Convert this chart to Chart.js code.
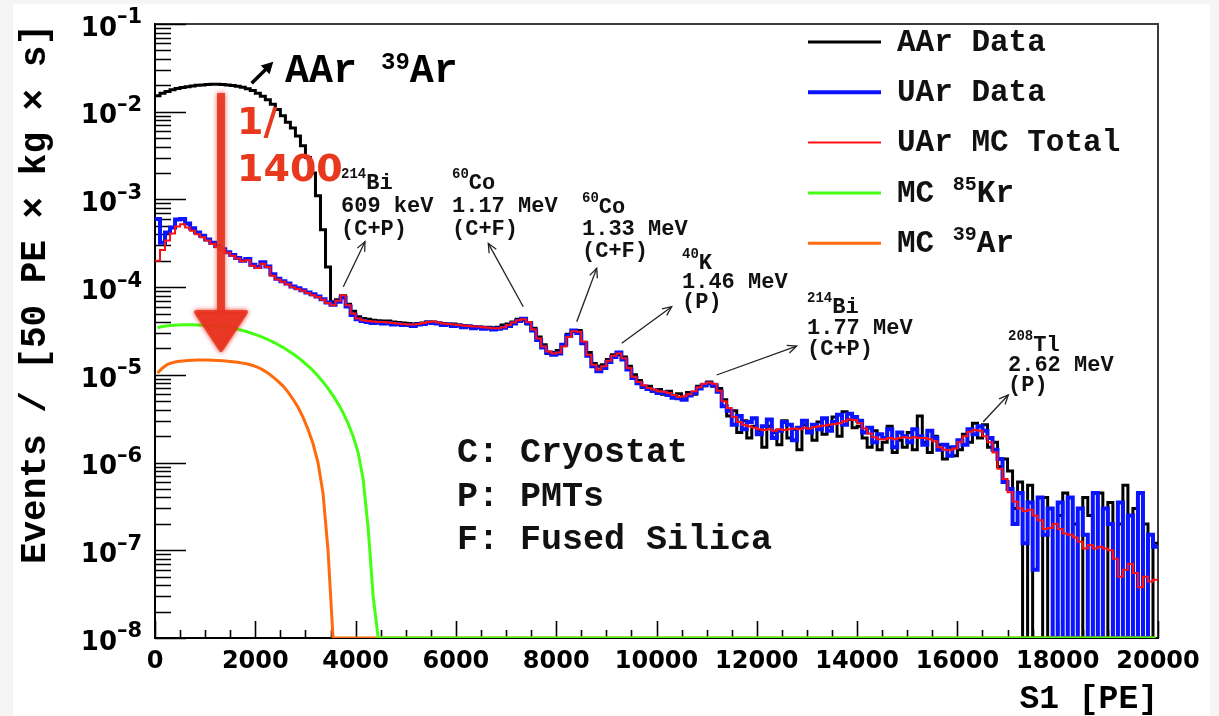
<!DOCTYPE html>
<html>
<head>
<meta charset="utf-8">
<script src="https://cdn.jsdelivr.net/npm/chart.js@4.4.1/dist/chart.umd.min.js"></script>
<style>
  html, body { margin: 0; padding: 0; background: #ffffff; }
  #wrap { position: relative; width: 1219px; height: 716px; }
</style>
</head>
<body>
<div id="wrap"><canvas id="spectrum" width="1219" height="716"></canvas></div>
<script>
// S1 spectra in 100 PE bins, rate in events / [50 PE x kg x s]
const S1_MIN = 0, S1_MAX = 20000, BIN_WIDTH = 100;
const Y_MIN = 1e-8, Y_MAX = 1e-1;
const xTickValues = [0, 2000, 4000, 6000, 8000, 10000, 12000, 14000, 16000, 18000, 20000];
const yTickExponents = [-8, -7, -6, -5, -4, -3, -2, -1];

// Atmospheric argon data (0 = empty bin)
const aarData = [
  1.52e-2, 1.62e-2, 1.70e-2, 1.78e-2, 1.84e-2, 1.89e-2, 1.93e-2, 1.97e-2, 2.00e-2, 2.02e-2,
  2.04e-2, 2.05e-2, 2.05e-2, 2.04e-2, 2.02e-2, 1.99e-2, 1.95e-2, 1.90e-2, 1.83e-2, 1.74e-2,
  1.62e-2, 1.50e-2, 1.37e-2, 1.22e-2, 1.06e-2, 9.0e-3, 7.6e-3, 6.5e-3, 5.3e-3, 4.1e-3,
  3.0e-3, 2.0e-3, 1.1e-3, 4.5e-4, 1.7e-4, 6.8e-5, 7.2e-5, 8.0e-5, 6.4e-5, 5.3e-5,
  4.6e-5, 4.4e-5, 4.3e-5, 4.2e-5, 4.15e-5, 4.1e-5, 4.1e-5, 4.0e-5, 3.95e-5, 3.9e-5,
  3.85e-5, 3.8e-5, 3.85e-5, 3.9e-5, 4.0e-5, 4.0e-5, 3.9e-5, 3.85e-5, 3.8e-5, 3.8e-5,
  3.7e-5, 3.65e-5, 3.6e-5, 3.55e-5, 3.5e-5, 3.5e-5, 3.5e-5, 3.45e-5, 3.5e-5, 3.7e-5,
  3.8e-5, 4.0e-5, 4.3e-5, 4.2e-5, 3.8e-5, 3.4e-5, 2.7e-5, 2.2e-5, 1.75e-5, 1.8e-5,
  1.9e-5, 2.2e-5, 2.9e-5, 3.1e-5, 3.2e-5, 2.3e-5, 1.8e-5, 1.35e-5, 1.25e-5, 1.3e-5,
  1.5e-5, 1.7e-5, 1.7e-5, 1.6e-5, 1.25e-5, 1.0e-5, 8.6e-6, 7.2e-6, 7.4e-6, 6.5e-6,
  6.8e-6, 6.0e-6, 6.5e-6, 5.6e-6, 6.1e-6, 5.3e-6, 6.3e-6, 6.0e-6, 7.4e-6, 7.5e-6,
  8.3e-6, 7.4e-6, 7.0e-6, 5.2e-6, 3.4e-6, 3.9e-6, 2.2e-6, 3.0e-6, 1.9e-6, 2.6e-6,
  2.3e-6, 1.5e-6, 2.6e-6, 2.2e-6, 1.6e-6, 3.0e-6, 1.9e-6, 2.4e-6, 1.4e-6, 2.7e-6,
  2.4e-6, 1.8e-6, 2.9e-6, 2.1e-6, 2.6e-6, 3.3e-6, 2.0e-6, 3.8e-6, 3.1e-6, 2.5e-6,
  2.6e-6, 1.9e-6, 1.5e-6, 2.3e-6, 1.4e-6, 1.7e-6, 2.6e-6, 1.3e-6, 1.8e-6, 1.5e-6,
  2.2e-6, 1.4e-6, 3.4e-6, 1.7e-6, 1.3e-6, 2.0e-6, 1.6e-6, 1.1e-6, 1.5e-6, 1.2e-6,
  1.4e-6, 2.1e-6, 1.7e-6, 2.8e-6, 1.9e-6, 2.7e-6, 1.5e-6, 1.7e-6, 9.0e-7, 1.1e-6,
  8.0e-7, 3.0e-7, 6.0e-7, 0, 5.5e-7, 0, 0, 4.0e-7, 0, 0,
  2.5e-7, 4.5e-7, 0, 2.0e-7, 0, 4.0e-7, 2.5e-7, 0, 4.5e-7, 0,
  3.5e-7, 0, 2.0e-7, 5.5e-7, 0, 3.0e-7, 0, 2.0e-7, 0, 1.2e-7
];

// Underground argon data
const uarData = [
  6.0e-4, 3.2e-4, 4.2e-4, 4.8e-4, 5.9e-4, 6.0e-4, 5.3e-4, 4.7e-4, 4.2e-4, 3.85e-4,
  3.5e-4, 3.2e-4, 2.95e-4, 2.7e-4, 2.5e-4, 2.32e-4, 2.15e-4, 2.0e-4, 2.1e-4, 1.8e-4,
  1.7e-4, 1.92e-4, 1.72e-4, 1.4e-4, 1.25e-4, 1.17e-4, 1.1e-4, 1.02e-4, 9.7e-5, 9.2e-5,
  8.7e-5, 8.3e-5, 7.8e-5, 7.3e-5, 6.7e-5, 6.3e-5, 6.8e-5, 7.6e-5, 6.0e-5, 4.8e-5,
  4.3e-5, 4.1e-5, 4.0e-5, 3.9e-5, 3.95e-5, 3.85e-5, 3.9e-5, 3.75e-5, 3.8e-5, 3.7e-5,
  3.7e-5, 3.6e-5, 3.75e-5, 3.8e-5, 3.95e-5, 3.9e-5, 3.85e-5, 3.7e-5, 3.75e-5, 3.6e-5,
  3.65e-5, 3.5e-5, 3.55e-5, 3.4e-5, 3.5e-5, 3.35e-5, 3.4e-5, 3.3e-5, 3.35e-5, 3.45e-5,
  3.6e-5, 3.85e-5, 4.1e-5, 4.35e-5, 3.9e-5, 3.2e-5, 2.5e-5, 2.05e-5, 1.8e-5, 1.7e-5,
  1.75e-5, 2.2e-5, 2.8e-5, 3.2e-5, 3.0e-5, 2.3e-5, 1.65e-5, 1.25e-5, 1.1e-5, 1.2e-5,
  1.4e-5, 1.6e-5, 1.8e-5, 1.5e-5, 1.15e-5, 9.2e-6, 8.0e-6, 7.3e-6, 6.9e-6, 6.6e-6,
  6.2e-6, 6.3e-6, 5.9e-6, 5.5e-6, 5.4e-6, 5.2e-6, 5.8e-6, 6.2e-6, 7.0e-6, 7.6e-6,
  8.0e-6, 7.6e-6, 6.4e-6, 4.4e-6, 3.9e-6, 2.7e-6, 3.4e-6, 2.4e-6, 2.9e-6, 3.2e-6,
  2.1e-6, 2.6e-6, 3.1e-6, 1.9e-6, 2.3e-6, 2.9e-6, 2.7e-6, 1.8e-6, 2.5e-6, 3.0e-6,
  2.2e-6, 2.7e-6, 2.4e-6, 3.2e-6, 2.3e-6, 2.9e-6, 3.5e-6, 2.7e-6, 3.6e-6, 3.3e-6,
  3.0e-6, 2.2e-6, 2.5e-6, 1.7e-6, 2.1e-6, 1.9e-6, 2.4e-6, 1.5e-6, 2.2e-6, 2.0e-6,
  1.7e-6, 2.4e-6, 2.0e-6, 1.6e-6, 2.3e-6, 1.9e-6, 1.4e-6, 1.6e-6, 1.2e-6, 1.5e-6,
  1.8e-6, 1.6e-6, 2.4e-6, 2.1e-6, 2.6e-6, 2.3e-6, 1.9e-6, 1.4e-6, 1.1e-6, 6.0e-7,
  5.0e-7, 2.0e-7, 4.5e-7, 1.2e-7, 3.5e-7, 6.0e-8, 4.0e-7, 1.5e-7, 3.0e-7, 0,
  3.5e-7, 0, 4.0e-7, 0, 3.0e-7, 1.5e-7, 0, 4.5e-7, 0, 3.0e-7,
  2.0e-7, 0, 3.5e-7, 0, 2.5e-7, 0, 4.5e-7, 0, 1.5e-7, 1.1e-7
];

// Underground argon Monte Carlo, all components
const uarMcTotal = [
  2.0e-4, 2.65e-4, 3.4e-4, 4.1e-4, 4.9e-4, 5.2e-4, 4.8e-4, 4.4e-4, 4.0e-4, 3.7e-4,
  3.4e-4, 3.1e-4, 2.85e-4, 2.65e-4, 2.46e-4, 2.28e-4, 2.12e-4, 1.97e-4, 2.02e-4, 1.75e-4,
  1.65e-4, 1.85e-4, 1.7e-4, 1.35e-4, 1.22e-4, 1.15e-4, 1.08e-4, 1.0e-4, 9.5e-5, 9.1e-5,
  8.6e-5, 8.1e-5, 7.7e-5, 7.2e-5, 6.6e-5, 6.2e-5, 7.0e-5, 8.1e-5, 6.2e-5, 5.0e-5,
  4.4e-5, 4.2e-5, 4.1e-5, 4.05e-5, 4.0e-5, 4.0e-5, 3.95e-5, 3.9e-5, 3.85e-5, 3.8e-5,
  3.75e-5, 3.75e-5, 3.8e-5, 3.9e-5, 4.0e-5, 4.05e-5, 3.95e-5, 3.85e-5, 3.8e-5, 3.75e-5,
  3.7e-5, 3.65e-5, 3.6e-5, 3.55e-5, 3.55e-5, 3.5e-5, 3.45e-5, 3.4e-5, 3.4e-5, 3.5e-5,
  3.7e-5, 3.95e-5, 4.2e-5, 4.3e-5, 4.0e-5, 3.3e-5, 2.6e-5, 2.1e-5, 1.85e-5, 1.75e-5,
  1.8e-5, 2.1e-5, 2.7e-5, 3.15e-5, 3.1e-5, 2.4e-5, 1.7e-5, 1.3e-5, 1.15e-5, 1.25e-5,
  1.45e-5, 1.65e-5, 1.75e-5, 1.55e-5, 1.2e-5, 9.5e-6, 8.3e-6, 7.6e-6, 7.1e-6, 6.8e-6,
  6.5e-6, 6.4e-6, 6.2e-6, 5.9e-6, 5.6e-6, 5.7e-6, 6.0e-6, 6.5e-6, 7.2e-6, 7.9e-6,
  8.2e-6, 7.9e-6, 6.6e-6, 5.0e-6, 4.2e-6, 3.3e-6, 2.9e-6, 2.7e-6, 2.6e-6, 2.5e-6,
  2.4e-6, 2.35e-6, 2.4e-6, 2.3e-6, 2.4e-6, 2.35e-6, 2.4e-6, 2.45e-6, 2.4e-6, 2.5e-6,
  2.45e-6, 2.55e-6, 2.6e-6, 2.65e-6, 2.7e-6, 2.75e-6, 2.8e-6, 2.95e-6, 3.1e-6, 3.05e-6,
  2.8e-6, 2.45e-6, 2.15e-6, 1.95e-6, 1.85e-6, 1.85e-6, 1.9e-6, 1.85e-6, 1.9e-6, 1.95e-6,
  1.9e-6, 1.95e-6, 1.9e-6, 1.9e-6, 1.85e-6, 1.75e-6, 1.5e-6, 1.4e-6, 1.38e-6, 1.45e-6,
  1.7e-6, 2.0e-6, 2.25e-6, 2.35e-6, 2.3e-6, 2.0e-6, 1.7e-6, 1.3e-6, 8.5e-7, 6.5e-7,
  4.6e-7, 3.6e-7, 3.0e-7, 2.8e-7, 2.9e-7, 2.5e-7, 2.2e-7, 1.75e-7, 1.8e-7, 2.0e-7,
  1.75e-7, 1.55e-7, 1.5e-7, 1.4e-7, 1.25e-7, 1.05e-7, 1.15e-7, 1.05e-7, 1.1e-7, 1.05e-7,
  1.0e-7, 8.0e-8, 5.0e-8, 6.0e-8, 7.0e-8, 5.5e-8, 3.8e-8, 5.0e-8, 4.4e-8, 4.6e-8
];

// Monte Carlo 85Kr component
const mcKr85 = [
  3.45e-5, 3.55e-5, 3.62e-5, 3.67e-5, 3.7e-5, 3.72e-5, 3.72e-5, 3.72e-5, 3.7e-5, 3.68e-5,
  3.66e-5, 3.63e-5, 3.6e-5, 3.55e-5, 3.48e-5, 3.4e-5, 3.3e-5, 3.2e-5, 3.08e-5, 2.95e-5,
  2.82e-5, 2.68e-5, 2.53e-5, 2.38e-5, 2.22e-5, 2.06e-5, 1.9e-5, 1.74e-5, 1.58e-5, 1.42e-5,
  1.27e-5, 1.12e-5, 9.7e-6, 8.3e-6, 7.0e-6, 5.8e-6, 4.7e-6, 3.7e-6, 2.8e-6, 2.0e-6,
  1.3e-6, 6.5e-7, 1.8e-7, 3.0e-8, 0, 0, 0, 0, 0, 0,
  0, 0, 0, 0, 0, 0, 0, 0, 0, 0, 0, 0, 0, 0, 0, 0, 0, 0, 0, 0,
  0, 0, 0, 0, 0, 0, 0, 0, 0, 0, 0, 0, 0, 0, 0, 0, 0, 0, 0, 0,
  0, 0, 0, 0, 0, 0, 0, 0, 0, 0, 0, 0, 0, 0, 0, 0, 0, 0, 0, 0,
  0, 0, 0, 0, 0, 0, 0, 0, 0, 0, 0, 0, 0, 0, 0, 0, 0, 0, 0, 0,
  0, 0, 0, 0, 0, 0, 0, 0, 0, 0, 0, 0, 0, 0, 0, 0, 0, 0, 0, 0,
  0, 0, 0, 0, 0, 0, 0, 0, 0, 0, 0, 0, 0, 0, 0, 0, 0, 0, 0, 0,
  0, 0, 0, 0, 0, 0, 0, 0, 0, 0, 0, 0, 0, 0, 0, 0, 0, 0, 0, 0,
  0, 0, 0, 0, 0, 0, 0, 0, 0, 0
];

// Monte Carlo 39Ar component (scaled underground level)
const mcAr39 = [
  1.05e-5, 1.2e-5, 1.32e-5, 1.38e-5, 1.42e-5, 1.44e-5, 1.46e-5, 1.47e-5, 1.48e-5, 1.48e-5,
  1.48e-5, 1.47e-5, 1.46e-5, 1.45e-5, 1.43e-5, 1.41e-5, 1.39e-5, 1.36e-5, 1.33e-5, 1.28e-5,
  1.22e-5, 1.14e-5, 1.05e-5, 9.5e-6, 8.5e-6, 7.5e-6, 6.4e-6, 5.3e-6, 4.3e-6, 3.3e-6,
  2.4e-6, 1.65e-6, 1.0e-6, 4.5e-7, 1.0e-7, 0, 0, 0, 0, 0,
  0, 0, 0, 0, 0, 0, 0, 0, 0, 0, 0, 0, 0, 0, 0, 0, 0, 0, 0, 0,
  0, 0, 0, 0, 0, 0, 0, 0, 0, 0, 0, 0, 0, 0, 0, 0, 0, 0, 0, 0,
  0, 0, 0, 0, 0, 0, 0, 0, 0, 0, 0, 0, 0, 0, 0, 0, 0, 0, 0, 0,
  0, 0, 0, 0, 0, 0, 0, 0, 0, 0, 0, 0, 0, 0, 0, 0, 0, 0, 0, 0,
  0, 0, 0, 0, 0, 0, 0, 0, 0, 0, 0, 0, 0, 0, 0, 0, 0, 0, 0, 0,
  0, 0, 0, 0, 0, 0, 0, 0, 0, 0, 0, 0, 0, 0, 0, 0, 0, 0, 0, 0,
  0, 0, 0, 0, 0, 0, 0, 0, 0, 0, 0, 0, 0, 0, 0, 0, 0, 0, 0, 0,
  0, 0, 0, 0, 0, 0, 0, 0, 0, 0, 0, 0, 0, 0, 0, 0, 0, 0, 0, 0
];

const MONO = '"Liberation Mono", "DejaVu Sans Mono", monospace';
const SANS = '"DejaVu Sans", "Liberation Sans", sans-serif';

// Step histogram: empty bins sit on the axis floor; the last bin is closed at its upper edge.
function histogram(values) {
  const pts = values.map((v, i) => ({ x: S1_MIN + i * BIN_WIDTH, y: v > 0 ? v : Y_MIN }));
  pts.push({ x: S1_MIN + values.length * BIN_WIDTH, y: pts[pts.length - 1].y });
  return pts;
}
// Smooth MC shapes: one point per bin centre, joined by straight segments.
function binCentres(values) {
  return values.map((v, i) => ({ x: S1_MIN + (i + 0.5) * BIN_WIDTH, y: v > 0 ? v : Y_MIN }));
}

// Legend texts: [text, superscript, text]
const legendLabels = [
  ['AAr Data'], ['UAr Data'], ['UAr MC Total'], ['MC ', '85', 'Kr'], ['MC ', '39', 'Ar']
];

// Peak annotations, anchored in (S1 [PE], rate) coordinates
const peakNotes = [
  { iso: '214', el: 'Bi', energy: '609 keV',  origin: '(C+P)', at: [3709, 1.54e-3],  gap: 23,   from: [3755, 1.01e-4],  to: [4187, 3.3e-4] },
  { iso: '60',  el: 'Co', energy: '1.17 MeV', origin: '(C+F)', at: [5922, 1.54e-3],  gap: 23,   from: [7343, 5.98e-5],  to: [6646, 3.16e-4] },
  { iso: '60',  el: 'Co', energy: '1.33 MeV', origin: '(C+F)', at: [8514, 8.2e-4],   gap: 22,   from: [8409, 4.04e-5],  to: [8808, 1.64e-4] },
  { iso: '40',  el: 'K',  energy: '1.46 MeV', origin: '(P)',   at: [10508, 1.88e-4], gap: 19.5, from: [9306, 2.29e-5],  to: [10303, 5.98e-5] },
  { iso: '214', el: 'Bi', energy: '1.77 MeV', origin: '(C+P)', at: [13001, 5.93e-5], gap: 21,   from: [11200, 9.96e-6], to: [12795, 2.13e-5] },
  { iso: '208', el: 'Tl', energy: '2.62 MeV', origin: '(P)',   at: [17009, 2.19e-5], gap: 20,   from: [16516, 2.92e-6], to: [17015, 5.89e-6] }
];

const sourceKey = ['C: Cryostat', 'P: PMTs', 'F: Fused Silica'];
const sourceKeyAt = { x: 6022, y: [1.29e-6, 4.05e-7, 1.31e-7] };

const aarNote = { from: [1928, 2.11e-2], to: [2359, 3.71e-2], text: [2592, 2.86e-2] };
const reduction = { lines: ['1/', '1400'], x: 1635, y: [7.2e-3, 2.08e-3],
                    arrowX: 1316, arrowTop: 1.63e-2, headBase: 5.2e-5, tip: 1.82e-5 };

function arrow(ctx, x1, y1, x2, y2, len, spread, filled) {
  const a = Math.atan2(y2 - y1, x2 - x1);
  ctx.beginPath();
  ctx.moveTo(x1, y1);
  ctx.lineTo(filled ? x2 - Math.cos(a) * len * 0.7 : x2, filled ? y2 - Math.sin(a) * len * 0.7 : y2);
  ctx.stroke();
  ctx.beginPath();
  ctx.moveTo(x2 - len * Math.cos(a - spread), y2 - len * Math.sin(a - spread));
  ctx.lineTo(x2, y2);
  ctx.lineTo(x2 - len * Math.cos(a + spread), y2 - len * Math.sin(a + spread));
  if (filled) { ctx.closePath(); ctx.fill(); } else { ctx.stroke(); }
}

function richText(ctx, x, y, parts) {
  let cx = x;
  for (const [t, size, raise, family] of parts) {
    ctx.font = 'bold ' + size + 'px ' + (family || MONO);
    ctx.fillText(t, cx, y - (raise || 0));
    cx += ctx.measureText(t).width;
  }
}

const decorations = {
  id: 'decorations',
  beforeDraw(chart) {
    const ctx = chart.ctx;
    ctx.save();
    ctx.fillStyle = '#f5f5f5';
    ctx.fillRect(0, 0, 13, chart.height);
    ctx.fillRect(0, 0, chart.width, 4);
    ctx.fillRect(1210, 0, chart.width - 1210, chart.height);
    ctx.restore();
  },
  beforeDatasetsDraw(chart) {
    const { ctx, chartArea: a, scales: { x, y } } = chart;
    ctx.save();
    // upper and right frame
    ctx.strokeStyle = '#3a3a3a';
    ctx.lineWidth = 2;
    ctx.beginPath();
    ctx.moveTo(a.left, a.top); ctx.lineTo(a.right, a.top); ctx.lineTo(a.right, a.bottom);
    ctx.stroke();
    // inward tick marks
    ctx.strokeStyle = '#000';
    ctx.lineWidth = 1.6;
    ctx.beginPath();
    for (let v = S1_MIN; v <= S1_MAX; v += 500) {
      const px = Math.round(x.getPixelForValue(v)) + 0.5;
      const len = v % 2000 === 0 ? 17 : 8;
      ctx.moveTo(px, a.bottom); ctx.lineTo(px, a.bottom - len);
    }
    for (const e of yTickExponents) {
      for (let m = 1; m <= 9; m++) {
        if (e === -1 && m > 1) break;
        const py = Math.round(y.getPixelForValue(m * Number('1e' + e))) + 0.5;
        ctx.moveTo(a.left, py); ctx.lineTo(a.left + (m === 1 ? 31 : 16), py);
      }
    }
    ctx.stroke();
    // decade labels 10^n
    ctx.fillStyle = '#000';
    ctx.textBaseline = 'middle';
    for (const e of yTickExponents) {
      const py = y.getPixelForValue(Number('1e' + e));
      ctx.font = 'bold 26px ' + SANS;
      ctx.textAlign = 'right';
      ctx.fillText('10', 117, py + 5);
      ctx.font = 'bold 21px ' + SANS;
      ctx.textAlign = 'left';
      ctx.fillText('\u2013' + Math.abs(e), 117, py - 6);
    }
    ctx.restore();
  },
  afterDatasetsDraw(chart) {
    const { ctx, chartArea: a, scales: { x, y } } = chart;
    const X = v => x.getPixelForValue(v), Y = v => y.getPixelForValue(v);
    ctx.save();
    ctx.textBaseline = 'middle';
    ctx.textAlign = 'left';

    // legend
    chart.data.datasets.forEach((ds, i) => {
      const ry = a.top + 18 + i * 50.3;
      ctx.strokeStyle = ds.borderColor;
      ctx.lineWidth = ds.borderWidth;
      ctx.beginPath(); ctx.moveTo(a.left + 653, ry); ctx.lineTo(a.left + 726, ry); ctx.stroke();
      ctx.fillStyle = '#111';
      const lab = legendLabels[i];
      if (lab.length === 1) richText(ctx, a.left + 742, ry + 1, [[lab[0], 31]]);
      else richText(ctx, a.left + 742, ry + 1, [[lab[0], 31], [lab[1], 20, 9], [lab[2], 31]]);
    });

    // AAr 39Ar label with arrow
    ctx.strokeStyle = ctx.fillStyle = '#000';
    ctx.lineWidth = 3.5;
    arrow(ctx, X(aarNote.from[0]), Y(aarNote.from[1]), X(aarNote.to[0]), Y(aarNote.to[1]), 13, 0.5, true);
    richText(ctx, X(aarNote.text[0]), Y(aarNote.text[1]), [['AAr ', 40], ['39', 24, 9], ['Ar', 40]]);

    // peak labels
    ctx.lineWidth = 1.3;
    ctx.strokeStyle = '#222';
    ctx.fillStyle = '#111';
    for (const n of peakNotes) {
      arrow(ctx, X(n.from[0]), Y(n.from[1]), X(n.to[0]), Y(n.to[1]), 10, 0.42, false);
      const tx = X(n.at[0]), ty = Y(n.at[1]);
      richText(ctx, tx, ty, [[n.iso, 14, 9], [n.el, 22]]);
      richText(ctx, tx, ty + n.gap, [[n.energy, 22]]);
      richText(ctx, tx, ty + 2 * n.gap, [[n.origin, 22]]);
    }

    // origin key
    sourceKey.forEach((t, i) => richText(ctx, X(sourceKeyAt.x), Y(sourceKeyAt.y[i]), [[t, 35]]));

    // reduction factor arrow
    const ax = X(reduction.arrowX), yTop = Y(reduction.arrowTop), yBase = Y(reduction.headBase), yTip = Y(reduction.tip);
    ctx.save();
    ctx.globalAlpha = 0.85;
    ctx.strokeStyle = ctx.fillStyle = '#e8321e';
    ctx.shadowColor = 'rgba(232,50,30,0.9)';
    ctx.shadowBlur = 5;
    ctx.lineWidth = 8;
    ctx.beginPath(); ctx.moveTo(ax, yTop); ctx.lineTo(ax, yBase + 2); ctx.stroke();
    ctx.lineJoin = 'round';
    ctx.lineWidth = 4;
    ctx.beginPath(); ctx.moveTo(ax - 25, yBase); ctx.lineTo(ax + 25, yBase); ctx.lineTo(ax, yTip - 2); ctx.closePath();
    ctx.fill(); ctx.stroke();
    ctx.restore();
    ctx.fillStyle = '#e8391f';
    reduction.lines.forEach((t, i) => richText(ctx, X(reduction.x), Y(reduction.y[i]), [[t, 38, 0, SANS]]));

    ctx.restore();
  }
};

new Chart(document.getElementById('spectrum'), {
  type: 'line',
  data: {
    datasets: [
      { label: 'AAr Data',     data: histogram(aarData),    borderColor: '#000000', borderWidth: 3, order: 5, stepped: 'before' },
      { label: 'UAr Data',     data: histogram(uarData),    borderColor: '#0a14ff', borderWidth: 4, order: 4, stepped: 'before' },
      { label: 'UAr MC Total', data: histogram(uarMcTotal), borderColor: '#ff1010', borderWidth: 2, order: 3, stepped: 'before' },
      { label: 'MC 85Kr',      data: binCentres(mcKr85),    borderColor: '#44ff11', borderWidth: 3, order: 1, stepped: false },
      { label: 'MC 39Ar',      data: binCentres(mcAr39),    borderColor: '#ff6a0d', borderWidth: 3, order: 2, stepped: false }
    ].map(d => Object.assign(d, { pointRadius: 0, tension: 0, fill: false }))
  },
  options: {
    responsive: false,
    animation: false,
    devicePixelRatio: 1,
    layout: { padding: { top: 24, right: 61, left: 0, bottom: 0 } },
    plugins: { legend: { display: false }, tooltip: { enabled: false } },
    scales: {
      x: {
        type: 'linear', min: S1_MIN, max: S1_MAX,
        grid: { display: false, drawTicks: false },
        border: { display: true, color: '#000', width: 2 },
        afterBuildTicks(s) { s.ticks = xTickValues.map(v => ({ value: v })); },
        ticks: {
          autoSkip: false, maxRotation: 0, minRotation: 0, padding: 9, color: '#000',
          font: { family: SANS, weight: 'bold', size: 24 },
          callback: v => String(v)
        },
        title: {
          display: true, text: 'S1 [PE]', align: 'end', color: '#000',
          font: { family: MONO, weight: 'bold', size: 33, lineHeight: 1 },
          padding: { top: 0, bottom: 0 }
        },
        afterFit(s) { s.height = 78; }
      },
      y: {
        type: 'logarithmic', min: Y_MIN, max: Y_MAX,
        grid: { display: false, drawTicks: false },
        border: { display: true, color: '#000', width: 2 },
        ticks: { display: false },
        title: {
          display: true, text: 'Events / [50 PE \u00d7 kg \u00d7 s]', align: 'end', color: '#000',
          font: { family: MONO, weight: 'bold', size: 36, lineHeight: 1 },
          padding: { top: 18, bottom: 0 }
        },
        afterFit(s) { s.width = 155; }
      }
    }
  },
  plugins: [decorations]
});
</script>
</body>
</html>
